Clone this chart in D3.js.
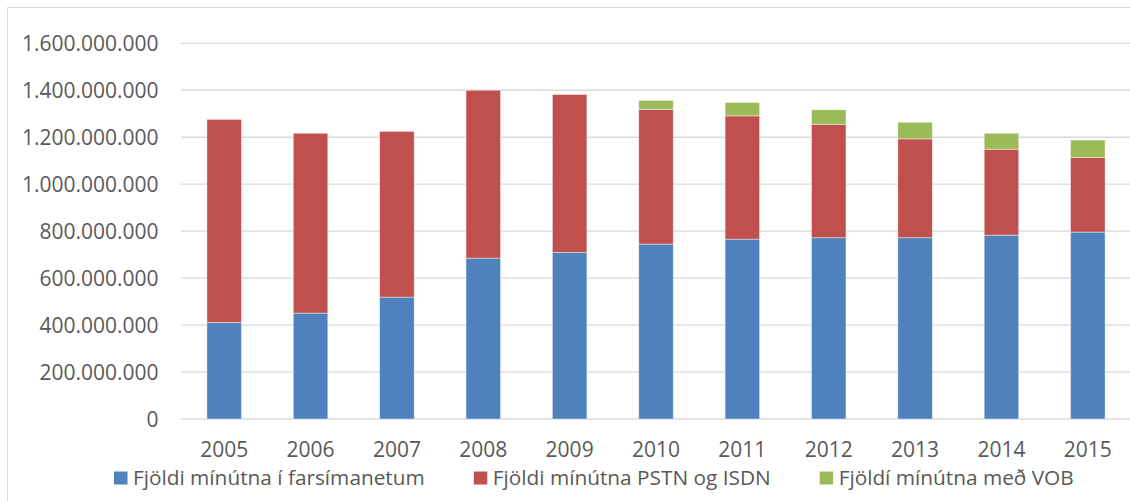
<!DOCTYPE html>
<html>
<head>
<meta charset="utf-8">
<script src="https://cdn.jsdelivr.net/npm/d3@7"></script>
<style>
  html, body { margin: 0; padding: 0; background: #fff; }
  svg { display: block; }
  text { font-family: "Open Sans", Lato, sans-serif; fill: #595959; }
</style>
</head>
<body>
<svg id="chart" width="1130" height="501"></svg>
<script>
const years = ["2005","2006","2007","2008","2009","2010","2011","2012","2013","2014","2015"];
const mobile = [411e6, 451e6, 519e6, 685e6, 709e6, 745e6, 766e6, 772e6, 772e6, 783e6, 796e6];
const pstn   = [865e6, 766e6, 706e6, 715e6, 673e6, 574e6, 525e6, 483e6, 421e6, 366e6, 318e6];
const vob    = [0, 0, 0, 0, 0, 38e6, 57e6, 62e6, 71e6, 68e6, 74e6];
const seriesNames = ["Fjöldi mínútna í farsímanetum", "Fjöldi mínútna PSTN og ISDN", "Fjöldí mínútna með VOB"];
const seriesColors = ["#4f81bd", "#c0504d", "#9bbb59"];
const yTicks = [0, 200e6, 400e6, 600e6, 800e6, 1000e6, 1200e6, 1400e6, 1600e6];

const svg = d3.select("#chart");
const fontSize = 21;
const legendFontSize = 20.8;

svg.append("path")
  .attr("d", "M7.5,501 V7.5 H1130")
  .attr("fill", "none").attr("stroke", "#d9d9d9").attr("stroke-width", 1);

const plot = { left: 181, right: 1131, top: 43.3, bottom: 419 };

const x = d3.scaleBand().domain(years).range([plot.left, plot.right]).paddingInner(0.6).paddingOuter(0.3);
const y = d3.scaleLinear().domain([0, 1600e6]).range([plot.bottom, plot.top]);

const fmt = v => d3.format(",")(v).replace(/,/g, ".");

svg.append("g").selectAll("line").data(yTicks).join("line")
  .attr("x1", plot.left).attr("x2", 1130)
  .attr("y1", d => y(d)).attr("y2", d => y(d))
  .attr("stroke", "#d9d9d9").attr("stroke-width", 1.3);

svg.append("g").selectAll("text").data(yTicks).join("text")
  .attr("x", 158.5).attr("y", d => y(d))
  .attr("text-anchor", "end").attr("dominant-baseline", "central")
  .style("font-size", fontSize + "px")
  .text(d => fmt(d));

const rows = years.map((yr, i) => ({ year: yr, s0: mobile[i], s1: pstn[i], s2: vob[i] }));
const stack = d3.stack().keys(["s0", "s1", "s2"])(rows);

svg.append("g").selectAll("g").data(stack).join("g")
  .attr("fill", (d, i) => seriesColors[i])
  .selectAll("rect").data(d => d.filter(p => p[1] - p[0] > 0)).join("rect")
  .attr("x", d => x(d.data.year))
  .attr("width", x.bandwidth())
  .attr("y", d => y(d[1]))
  .attr("height", d => y(d[0]) - y(d[1]))
  .attr("stroke", "rgba(255,255,255,0.55)").attr("stroke-width", 0.8);

svg.append("g").selectAll("text").data(years).join("text")
  .attr("x", d => x(d) + x.bandwidth() / 2).attr("y", 457)
  .attr("text-anchor", "middle")
  .style("font-size", fontSize + "px")
  .text(d => d);

const lg = svg.append("g");
let lx = 114;
seriesNames.forEach((name, i) => {
  lg.append("rect").attr("x", lx).attr("y", 471.5).attr("width", 13.5).attr("height", 13).attr("fill", seriesColors[i]);
  const t = lg.append("text").attr("x", lx + 19).attr("y", 484.5)
    .style("font-size", legendFontSize + "px").text(name);
  const w = t.node().getComputedTextLength();
  lx = lx + 19 + w + 49;
});
</script>
</body>
</html>
